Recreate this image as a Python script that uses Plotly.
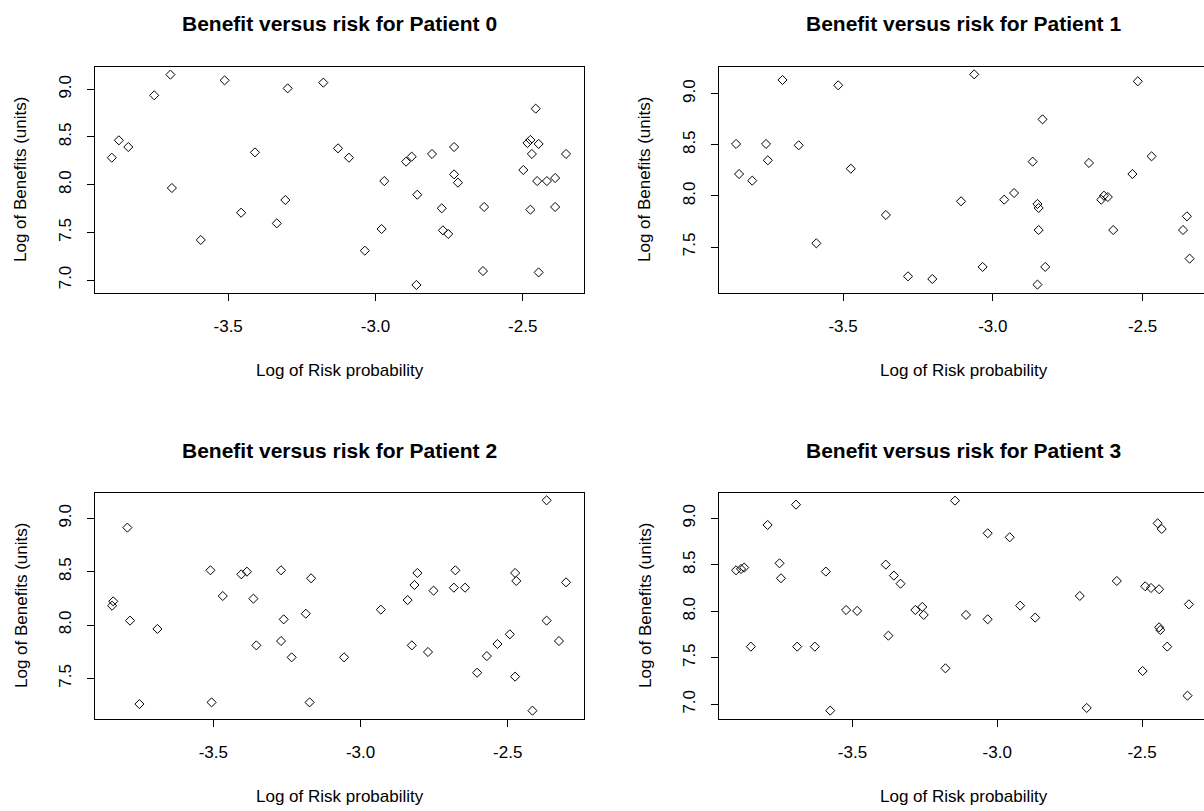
import plotly.graph_objects as go

# ---- data ----
p0_risk = [-3.895, -3.871, -3.839, -3.751, -3.696, -3.691, -3.593, -3.512, -3.456, -3.409,
           -3.335, -3.306, -3.298, -3.177, -3.127, -3.090, -3.036, -2.979, -2.970, -2.896,
           -2.877, -2.861, -2.858, -2.808, -2.775, -2.771, -2.753, -2.733, -2.733, -2.720,
           -2.635, -2.631, -2.498, -2.484, -2.474, -2.474, -2.469, -2.456, -2.446, -2.451,
           -2.446, -2.418, -2.390, -2.390, -2.353]
p0_benefit = [8.283, 8.465, 8.395, 8.937, 9.154, 7.965, 7.420, 9.094, 7.706, 8.339,
              7.594, 7.839, 9.010, 9.070, 8.381, 8.283, 7.308, 7.535, 8.038, 8.241,
              8.294, 6.948, 7.895, 8.322, 7.752, 7.521, 7.483, 8.395, 8.108, 8.021,
              7.094, 7.766, 8.154, 8.437, 8.469, 7.738, 8.322, 8.797, 8.427, 8.038,
              7.080, 8.038, 8.070, 7.766, 8.322]

p1_risk = [-3.857, -3.847, -3.803, -3.757, -3.751, -3.702, -3.648, -3.589, -3.516, -3.474,
           -3.357, -3.283, -3.202, -3.106, -3.062, -3.034, -2.962, -2.929, -2.867, -2.851,
           -2.847, -2.847, -2.851, -2.834, -2.825, -2.679, -2.638, -2.629, -2.616, -2.598,
           -2.534, -2.516, -2.470, -2.365, -2.352, -2.343]
p1_benefit = [8.508, 8.214, 8.149, 8.508, 8.348, 9.134, 8.495, 7.536, 9.082, 8.266,
              7.813, 7.213, 7.187, 7.947, 9.189, 7.305, 7.963, 8.028, 8.335, 7.921,
              7.882, 7.666, 7.132, 8.749, 7.305, 8.322, 7.963, 8.002, 7.989, 7.666,
              8.214, 9.121, 8.387, 7.666, 7.800, 7.386]

p2_risk = [-3.844, -3.840, -3.792, -3.783, -3.751, -3.690, -3.510, -3.506, -3.468, -3.405,
           -3.386, -3.364, -3.354, -3.270, -3.270, -3.261, -3.234, -3.186, -3.173, -3.168,
           -3.056, -2.931, -2.840, -2.826, -2.817, -2.807, -2.771, -2.752, -2.683, -2.678,
           -2.645, -2.604, -2.571, -2.535, -2.493, -2.475, -2.471, -2.475, -2.416, -2.368,
           -2.368, -2.326, -2.302]
p2_benefit = [8.181, 8.222, 8.913, 8.041, 7.259, 7.963, 8.513, 7.275, 8.272, 8.475,
              8.500, 8.247, 7.809, 8.513, 7.850, 8.053, 7.697, 8.106, 7.275, 8.438,
              7.697, 8.144, 8.234, 7.809, 8.375, 8.488, 7.747, 8.322, 8.350, 8.513,
              8.350, 7.553, 7.709, 7.822, 7.913, 8.488, 8.413, 7.516, 7.197, 9.169,
              8.041, 7.850, 8.400]

p3_risk = [-3.902, -3.885, -3.874, -3.851, -3.793, -3.752, -3.747, -3.695, -3.691, -3.630,
           -3.592, -3.577, -3.522, -3.484, -3.385, -3.376, -3.357, -3.334, -3.283, -3.259,
           -3.254, -3.179, -3.146, -3.108, -3.033, -3.033, -2.957, -2.921, -2.869, -2.715,
           -2.691, -2.587, -2.498, -2.489, -2.469, -2.446, -2.441, -2.432, -2.441, -2.437,
           -2.413, -2.343, -2.338]
p3_benefit = [8.441, 8.455, 8.470, 7.620, 8.928, 8.516, 8.355, 9.147, 7.620, 7.620,
              8.427, 6.932, 8.014, 8.004, 8.502, 7.738, 8.384, 8.297, 8.014, 8.047,
              7.961, 7.387, 9.190, 7.961, 8.839, 7.914, 8.796, 8.061, 7.932, 8.165,
              6.961, 8.326, 7.358, 8.269, 8.251, 8.946, 8.237, 8.885, 7.828, 7.799,
              7.620, 7.093, 8.075]

titles = ["Benefit versus risk for Patient 0", "Benefit versus risk for Patient 1",
          "Benefit versus risk for Patient 2", "Benefit versus risk for Patient 3"]
x_ticks = [-3.5, -3.0, -2.5]
x_tick_labels = ["-3.5", "-3.0", "-2.5"]
y_ticks = [7.0, 7.5, 8.0, 8.5, 9.0]
y_tick_labels = ["7.0", "7.5", "8.0", "8.5", "9.0"]
x_label = "Log of Risk probability"
y_label = "Log of Benefits (units)"

series = [(p0_risk, p0_benefit), (p1_risk, p1_benefit), (p2_risk, p2_benefit), (p3_risk, p3_benefit)]

# ---- layout (pixel geometry) ----
W, H = 1204, 811
FONT = "Liberation Sans, Arial, sans-serif"
BASE = 17
TITLE = 21

panels = [
    dict(px=(95, 584), py=(67, 293), xr=(-3.952, -2.292), yr=(6.864, 9.234)),
    dict(px=(719, 1204), py=(67, 293), xr=(-3.914, -2.295), yr=(7.050, 9.261)),
    dict(px=(95, 584), py=(493, 719), xr=(-3.902, -2.241), yr=(7.119, 9.2375)),
    dict(px=(719, 1204), py=(493, 719), xr=(-3.961, -2.286), yr=(6.842, 9.272)),
]

fig = go.Figure()
annotations = []
for i, (p, (xs, ys)) in enumerate(zip(panels, series)):
    n = "" if i == 0 else str(i + 1)
    xa, ya = "xaxis" + n, "yaxis" + n
    fig.add_trace(go.Scatter(
        x=xs, y=ys, mode="markers",
        marker=dict(symbol="diamond-open", size=7, color="black", line=dict(width=1, color="black")),
        xaxis="x" + n, yaxis="y" + n, showlegend=False, hoverinfo="x+y"))
    xdom = [p["px"][0] / W, p["px"][1] / W]
    ydom = [1 - p["py"][1] / H, 1 - p["py"][0] / H]
    right_cut = p["px"][1] >= W
    fig.layout[xa] = dict(
        domain=xdom, range=list(p["xr"]), anchor="y" + n,
        tickvals=x_ticks, ticktext=x_tick_labels, ticks="outside", ticklen=7,
        tickcolor="black", tickwidth=1, showgrid=False, zeroline=False,
        showline=True, linecolor="black", linewidth=1, mirror=True,
        tickfont=dict(family=FONT, size=BASE, color="black"), ticklabelstandoff=11)
    fig.layout[ya] = dict(
        domain=ydom, range=list(p["yr"]), anchor="x" + n,
        tickvals=y_ticks, ticktext=y_tick_labels, ticks="outside", ticklen=7,
        tickcolor="black", tickwidth=1, showgrid=False, zeroline=False,
        showline=True, linecolor="black", linewidth=1,
        mirror=False if right_cut else True, tickangle=-90,
        tickfont=dict(family=FONT, size=BASE, color="black"), ticklabelstandoff=9)
    cx = (p["px"][0] + (p["px"][0] + 489)) / 2
    annotations.append(dict(text="<b>" + titles[i] + "</b>", x=cx / W, y=1 - (p["py"][0] - 43) / H,
                            xref="paper", yref="paper", showarrow=False, xanchor="center", yanchor="middle",
                            font=dict(family=FONT, size=TITLE, color="black")))
    annotations.append(dict(text=x_label, x=cx / W, y=1 - (p["py"][1] + 77) / H,
                            xref="paper", yref="paper", showarrow=False, xanchor="center", yanchor="middle",
                            font=dict(family=FONT, size=BASE, color="black")))
    annotations.append(dict(text=y_label, x=(p["px"][0] - 74) / W, y=1 - (sum(p["py"]) / 2) / H,
                            xref="paper", yref="paper", showarrow=False, xanchor="center", yanchor="middle",
                            textangle=-90, font=dict(family=FONT, size=BASE, color="black")))

fig.update_layout(
    width=W, height=H, margin=dict(l=0, r=0, t=0, b=0),
    paper_bgcolor="white", plot_bgcolor="white",
    annotations=annotations, font=dict(family=FONT, color="black"))

fig.write_html("out.html", config={"displayModeBar": False},
               post_script="document.body.style.margin='0';document.body.style.overflow='hidden';")
